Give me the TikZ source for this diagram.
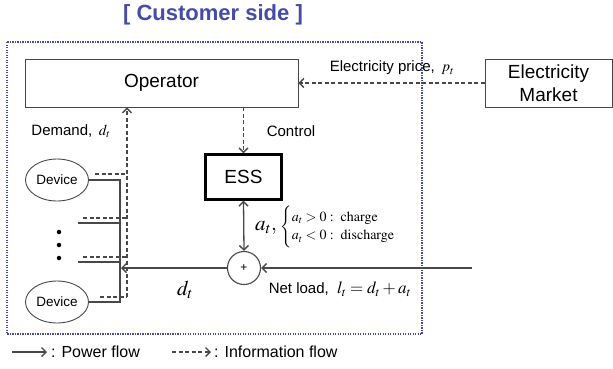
\documentclass[tikz,border=0pt]{standalone}
\usepackage{amsmath}
\usepackage{mathptmx}
\usepackage{fontspec}
\setmainfont{Liberation Sans}
\usetikzlibrary{arrows.meta, positioning, shapes.geometric, calc}
\definecolor{custblue}{RGB}{68,76,168}
\definecolor{linegray}{RGB}{72,72,72}
\newcommand{\bigtxt}{\fontsize{19}{23}\selectfont}
\newcommand{\midtxt}{\fontsize{15}{18}\selectfont}

\begin{document}
\begin{tikzpicture}[
    x=1pt, y=-1pt,
    box/.style={draw=linegray, line width=0.9pt, inner sep=0pt, align=center, font=\bigtxt},
    dev/.style={ellipse, draw=linegray, line width=0.9pt, minimum width=63pt, minimum height=42pt, inner sep=0pt, font=\fontsize{13.5}{16}\selectfont},
    lbl/.style={inner sep=1pt, font=\midtxt},
    pwr/.style={draw=linegray, line width=1.3pt},
    inf/.style={draw=linegray, line width=1.1pt, dash pattern=on 4pt off 2.5pt},
    arr/.style={-{Straight Barb[length=4.5pt, width=9pt, line width=1.4pt]}}
]
\useasboundingbox (0,0) rectangle (613,368);

\node[font=\fontsize{22}{26}\selectfont\bfseries, text=custblue] (title) at (213,15) {[ Customer side ]};
\draw[custblue, line width=1.3pt, dash pattern=on 1.2pt off 1.3pt] (7,42) rectangle (422,334);

\node[box, minimum width=273pt, minimum height=48pt] (op) at (161.5,83) {Operator};
\node[box, minimum width=127pt, minimum height=48pt] (mkt) at (548.5,83) {Electricity\\Market};
\node[box, draw=black, line width=2.2pt, minimum width=76pt, minimum height=45pt] (ess) at (243.5,177) {ESS};
\node[circle, draw=linegray, line width=1.1pt, minimum size=33pt, inner sep=0pt, font=\fontsize{12}{14}\selectfont] (sum) at (244,268) {+};
\node[dev] (dev1) at (57,180) {Device};
\node[dev] (dev2) at (57,302) {Device};
\node[circle, fill=black, inner sep=0pt, minimum size=4.5pt] (dot1) at (59,232) {};
\node[circle, fill=black, inner sep=0pt, minimum size=4.5pt] (dot2) at (59,245) {};
\node[circle, fill=black, inner sep=0pt, minimum size=4.5pt] (dot3) at (59,258) {};

\coordinate (bus1) at (120,180);
\coordinate (bus2) at (120,302);
\coordinate (busin) at (121,268);
\coordinate (midA) at (78,223);
\coordinate (midAb) at (120,223);
\coordinate (midB) at (78,262);
\coordinate (midBb) at (120,262);
\coordinate (infA) at (95,174);
\coordinate (infB) at (83,218);
\coordinate (infC) at (83,257);
\coordinate (infD) at (100,297);
\coordinate (infAb) at (127,174);
\coordinate (infBb) at (127,218);
\coordinate (infCb) at (127,257);
\coordinate (infDb) at (127,297);
\coordinate (grid) at (472,268);

\draw[pwr] (dev1.east) -- (bus1) -- (bus2) -- (dev2.east);
\draw[pwr] (midA) -- (midAb);
\draw[pwr] (midB) -- (midBb);
\draw[inf] (infA) -- (infAb);
\draw[inf] (infB) -- (infBb);
\draw[inf] (infC) -- (infCb);
\draw[inf] (infD) -- (infDb);
\draw[inf, arr] (infDb) -- (infDb |- op.south);

\draw[inf, arr] (mkt.west) -- (op.east);
\draw[inf, arr] (ess.north |- op.south) -- (ess.north);
\draw[pwr, {Straight Barb[length=4.5pt, width=9pt, line width=1.4pt]}-{Straight Barb[length=4.5pt, width=9pt, line width=1.4pt]}] (ess.south) -- (sum.north);
\draw[pwr, arr] (grid) -- (sum.east);
\draw[pwr, arr] (sum.west) -- (busin);

\node[lbl] (price) at (392,68) {Electricity price,\, $p_t$};
\node[lbl] (ctrl) at (291,131) {Control};
\node[lbl] (dem) at (71,131) {Demand,\, $d_t$};
\node[lbl, anchor=west, inner sep=0pt] (act) at (255,227) {\fontsize{21}{23}\selectfont$a_t,$\,\fontsize{14}{16}\selectfont$\begin{cases} a_t > 0:\ \mathrm{charge}\\[-1pt] a_t < 0:\ \mathrm{discharge}\end{cases}$};
\node[font=\fontsize{21}{23}\selectfont] (dlbl) at (185,290) {$d_t$};
\node[lbl] (net) at (340,289) {Net load,\ \ {\fontsize{17}{19}\selectfont$l_t = d_t + a_t$}};

\coordinate (legA) at (12,352);
\coordinate (legB) at (172,352);
\node[lbl, anchor=west, font=\fontsize{16}{18}\selectfont] (legpwr) at (50,352) {: Power flow};
\node[lbl, anchor=west, font=\fontsize{16}{18}\selectfont] (leginf) at (213,352) {: Information flow};
\draw[pwr, arr, shorten >=3pt] (legA) -- (legpwr.west);
\draw[inf, arr, shorten >=2pt] (legB) -- (leginf.west);
\end{tikzpicture}
\end{document}
